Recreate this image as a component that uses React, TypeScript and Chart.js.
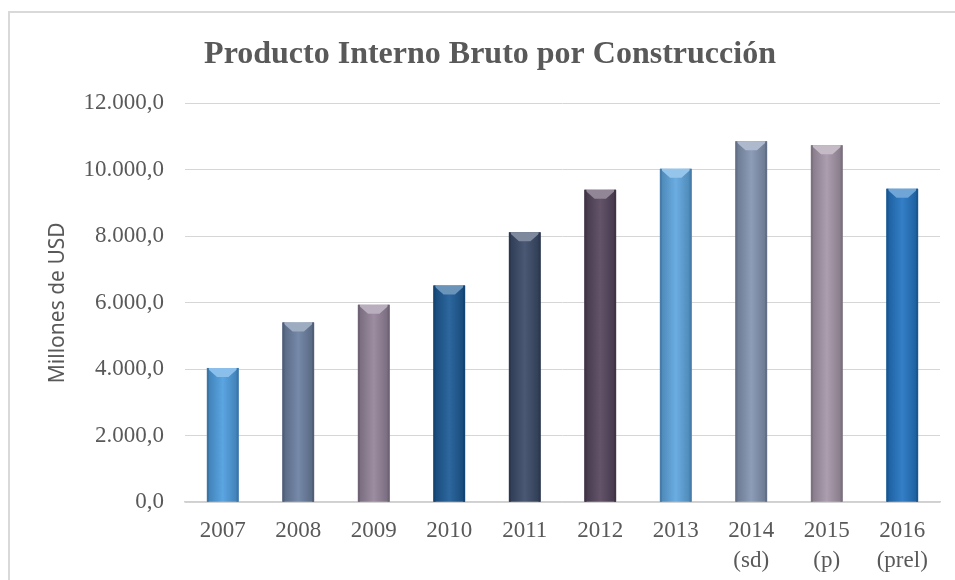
import React, { useEffect, useRef } from "react";
import { Chart, registerables } from "chart.js";

Chart.register(...registerables);

const categories: (string | string[])[] = [
  "2007", "2008", "2009", "2010", "2011", "2012", "2013",
  ["2014", "(sd)"], ["2015", "(p)"], ["2016", "(prel)"],
];
const values: number[] = [4040, 5410, 5940, 6520, 8120, 9400, 10030, 10860, 10740, 9430];
const barColors: string[] = [
  "#4d9de0", "#6a7fa0", "#94839a", "#1b5a96", "#3a4a68",
  "#55455c", "#5ea6e0", "#8394b2", "#a596a8", "#2274c2",
];
const yTicks: number[] = [0, 2000, 4000, 6000, 8000, 10000, 12000];
const titleText = "Producto Interno Bruto por Construcción";
const yAxisTitle = "Millones de USD";

const BAR_PCT = 0.42;

function fmt(v: number): string {
  const int = Math.round(v).toString().replace(/\B(?=(\d{3})+(?!\d))/g, ".");
  return int + ",0";
}

function shade(hex: string, amt: number): string {
  const n = parseInt(hex.slice(1), 16);
  let r = (n >> 16) & 255, g = (n >> 8) & 255, b = n & 255;
  const f = (c: number) => Math.max(0, Math.min(255, Math.round(amt >= 0 ? c + (255 - c) * amt : c * (1 + amt))));
  r = f(r); g = f(g); b = f(b);
  return `rgb(${r},${g},${b})`;
}

const bevelPlugin = {
  id: "bevel",
  afterDatasetsDraw(chart: any) {
    const meta = chart.getDatasetMeta(0);
    const ctx = chart.ctx;
    meta.data.forEach((el: any, i: number) => {
      const { x, y, base, width } = el.getProps(["x", "y", "base", "width"], true);
      const l = x - width / 2, r = x + width / 2;
      const d = Math.min(9, (base - y) / 2);
      const c = barColors[i];
      ctx.save();
      ctx.beginPath();
      ctx.moveTo(l, y);
      ctx.lineTo(r, y);
      ctx.lineTo(x + width * 0.18, y + d);
      ctx.lineTo(x - width * 0.18, y + d);
      ctx.closePath();
      ctx.fillStyle = shade(c, 0.35);
      ctx.fill();
      ctx.fillStyle = shade(c, -0.25);
      ctx.fillRect(l, y, 2, base - y);
      ctx.fillRect(r - 2, y, 2, base - y);
      ctx.restore();
    });
  },
};

export default function App() {
  const ref = useRef<HTMLCanvasElement | null>(null);
  useEffect(() => {
    document.body.style.margin = "0";
    document.body.style.overflow = "hidden";
    document.documentElement.style.overflow = "hidden";
    const canvas = ref.current!;
    const chart = new Chart(canvas, {
      type: "bar",
      data: {
        labels: categories,
        datasets: [
          {
            data: values,
            backgroundColor: (context: any) => {
              const ch = context.chart;
              const xs = ch.scales?.x;
              const c = barColors[context.dataIndex] || "#4d9de0";
              if (!xs || context.dataIndex === undefined) return c;
              const cx = xs.getPixelForValue(context.dataIndex);
              const hw = (xs.width / categories.length) * BAR_PCT / 2;
              if (!isFinite(cx) || !isFinite(hw) || hw <= 0) return c;
              const g = ch.ctx.createLinearGradient(cx - hw, 0, cx + hw, 0);
              g.addColorStop(0, shade(c, -0.2));
              g.addColorStop(0.5, shade(c, 0.08));
              g.addColorStop(1, shade(c, -0.2));
              return g;
            },
            borderWidth: 0,
            barPercentage: BAR_PCT,
            categoryPercentage: 1,
          },
        ],
      },
      options: {
        animation: false,
        responsive: false,
        maintainAspectRatio: false,
        layout: { padding: { left: 0, right: 30, top: 0, bottom: 4 } },
        plugins: {
          legend: { display: false },
          tooltip: { enabled: false },
          title: {
            display: true,
            text: titleText,
            color: "#595959",
            font: { family: "'Liberation Serif', 'Times New Roman', serif", size: 32, weight: "bold" },
            padding: { top: 23, bottom: 29 },
          },
        },
        scales: {
          x: {
            grid: { display: false, drawTicks: false },
            border: { display: true, color: "#d0d0d0", width: 1.5 },
            ticks: {
              color: "#595959",
              padding: 14,
              maxRotation: 0,
              autoSkip: false,
              font: { family: "'Liberation Serif', 'Times New Roman', serif", size: 23, lineHeight: 1.3 },
            },
          },
          y: {
            min: 0,
            max: 12000,
            afterBuildTicks: (axis: any) => {
              axis.ticks = yTicks.map((v) => ({ value: v }));
            },
            afterFit: (axis: any) => {
              axis.width = 145;
            },
            grid: { color: "#d6d6d6", lineWidth: 1, drawTicks: false },
            border: { display: false },
            ticks: {
              color: "#595959",
              padding: 21,
              callback: (v: any) => fmt(Number(v)),
              font: { family: "'Liberation Serif', 'Times New Roman', serif", size: 23 },
            },
            title: {
              display: true,
              text: yAxisTitle,
              color: "#595959",
              font: { family: "'Noto Sans', sans-serif", size: 21 },
              padding: { top: 5, bottom: 13 },
            },
          },
        },
      },
      plugins: [bevelPlugin],
    } as any);
    return () => chart.destroy();
  }, []);

  return (
    <div
      style={{
        position: "absolute",
        left: 8,
        top: 11,
        width: 975,
        height: 620,
        border: "2px solid #d9d9d9",
        boxSizing: "border-box",
        background: "#fff",
      }}
    >
      <canvas
        ref={ref}
        width={930}
        height={581}
        style={{ position: "absolute", left: 30, top: 0, width: 930, height: 581 }}
      />
    </div>
  );
}
